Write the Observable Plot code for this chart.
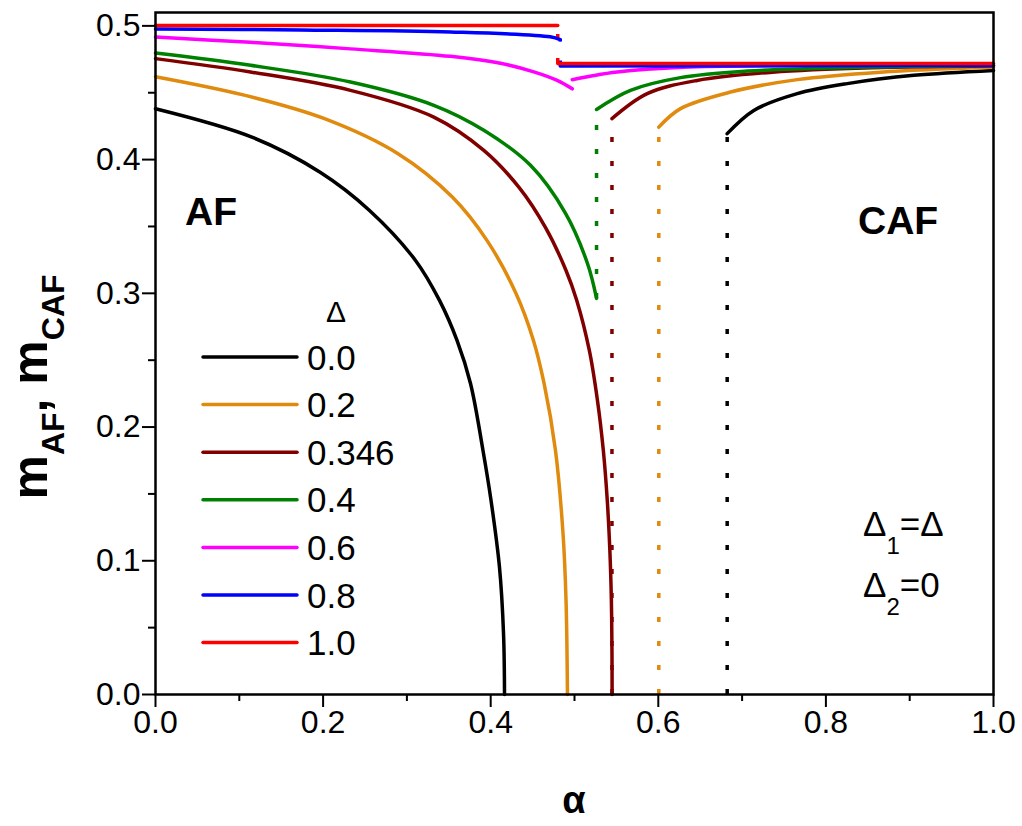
<!DOCTYPE html>
<html><head><meta charset="utf-8">
<script src="https://cdn.jsdelivr.net/npm/d3@7"></script>
<script src="https://cdn.jsdelivr.net/npm/@observablehq/plot@0.6"></script>
<style>body{margin:0;background:#fff;} svg{display:block;}</style>
</head><body><div id="chart"></div>
<script>
// ---- data ----
const deltaLabels = ["0.0","0.2","0.346","0.4","0.6","0.8","1.0"];
const seriesColors = ["#000000","#e08a0e","#800000","#008000","#ff00ff","#0000ff","#ff0000"];

// AF branches [alpha, m]
const af_00 = [[0,0.438],[0.1158,0.4166],[0.1969,0.3904],[0.2554,0.3620],[0.3103,0.3246],[0.3389,0.2947],[0.3598,0.2648],[0.3759,0.2326],[0.3908,0.1825],[0.4004,0.1451],[0.4105,0.0950],[0.4153,0.0456],[0.4165,0]];
const af_02 = [[0,0.462],[0.1072,0.4480],[0.2017,0.4306],[0.2894,0.4044],[0.3542,0.3720],[0.3955,0.3396],[0.4302,0.2999],[0.4510,0.2648],[0.4637,0.2326],[0.4773,0.1825],[0.4863,0.1204],[0.4899,0.0703],[0.4916,0]];
const af_0346 = [[0,0.4755],[0.1134,0.4655],[0.2327,0.4518],[0.3321,0.4318],[0.3918,0.4069],[0.4338,0.3792],[0.4653,0.3493],[0.4899,0.3171],[0.5027,0.2947],[0.5177,0.2573],[0.5274,0.2199],[0.5344,0.1825],[0.5391,0.1451],[0.5422,0.1077],[0.5440,0.0703],[0.5447,0.0329],[0.5449,0]];
const af_04 = [[0,0.4797],[0.1134,0.4705],[0.2327,0.4580],[0.3321,0.4406],[0.3918,0.4219],[0.4475,0.3957],[0.4893,0.3598],[0.5155,0.3223],[0.5263,0.2962]];
const af_06 = [[0,0.4916],[0.1134,0.4877],[0.2327,0.4828],[0.3520,0.4772],[0.4117,0.4720],[0.4514,0.4656],[0.4793,0.4592],[0.4973,0.4529]];
const af_08 = [[0,0.4977],[0.173,0.4970],[0.352,0.4955],[0.471,0.4918],[0.483,0.4897]];
const af_10 = [[0,0.5003],[0.480,0.5003]];

// CAF branches [alpha, m]
const caf_00 = [[0.6822,0.4194],[0.7140,0.4368],[0.7658,0.4493],[0.8254,0.4568],[0.9049,0.4630],[1,0.4667]];
const caf_02 = [[0.6006,0.4243],[0.6265,0.4381],[0.6862,0.4505],[0.7658,0.4598],[0.8652,0.4654],[1,0.4690]];
const caf_0346 = [[0.5447,0.4306],[0.5868,0.4493],[0.6464,0.4592],[0.7363,0.4654],[0.8556,0.4687],[1,0.4700]];
const caf_04 = [[0.5263,0.4375],[0.5668,0.4518],[0.6265,0.4613],[0.7061,0.4662],[0.8413,0.4690],[1,0.4705]];
const caf_06 = [[0.4973,0.4597],[0.520,0.4625],[0.551,0.4655],[0.630,0.4690],[0.750,0.4703],[1,0.4708]];
const caf_08 = [[0.483,0.4700],[1,0.4705]];
const caf_10 = [[0.480,0.4718],[1,0.4718]];

// first-order jumps (dotted): alpha, lower m, upper m
const jumpAlpha = [0.6822, 0.6006, 0.5447, 0.5263, null, 0.483, 0.480];
const jumpLow   = [0, 0, 0, 0.2962, null, 0.4700, 0.4718];
const jumpHigh  = [0.4194, 0.4243, 0.4306, 0.4375, null, 0.4897, 0.5003];

const xTicks = [0, 0.2, 0.4, 0.6, 0.8, 1.0];
const xMinor = [0.1, 0.3, 0.5, 0.7, 0.9];
const yTicks = [0, 0.1, 0.2, 0.3, 0.4, 0.5];
const yMinor = [0.05, 0.15, 0.25, 0.35, 0.45];

// ---- build tables ----
const afAll = [af_00, af_02, af_0346, af_04, af_06, af_08, af_10];
const cafAll = [caf_00, caf_02, caf_0346, caf_04, caf_06, caf_08, caf_10];
const solid = [];
seriesColors.forEach((c, i) => {
  afAll[i].forEach(([x, y]) => solid.push({key: i + "-af", x, y, color: c}));
  cafAll[i].forEach(([x, y]) => solid.push({key: i + "-caf", x, y, color: c}));
});
const jumps = jumpAlpha.map((x, i) => ({x, lo: jumpLow[i], hi: jumpHigh[i], color: seriesColors[i]})).filter(d => d.x != null);

const FONT = "Arial, 'Liberation Sans', sans-serif";

const chart = Plot.plot({
  width: 1022, height: 826,
  marginLeft: 155, marginRight: 29, marginTop: 12, marginBottom: 132,
  style: {fontFamily: FONT, background: "#fff", color: "#000"},
  x: {domain: [0, 1]},
  y: {domain: [0, 0.51]},
  color: {type: "identity"},
  marks: [
    Plot.ruleX(jumps, {x: "x", y1: "lo", y2: "hi", stroke: "color", strokeWidth: 3.5, strokeDasharray: "5,19"}),
    Plot.line(solid, {x: "x", y: "y", z: "key", stroke: "color", strokeWidth: 3.5, curve: "catmull-rom", strokeLinecap: "round"}),
    Plot.axisX(xTicks, {tickSize: 13, tickPadding: 3, strokeWidth: 2, fontSize: 32, tickFormat: d3.format(".1f"), label: null}),
    Plot.axisX(xMinor, {tickSize: 7, strokeWidth: 2, tickFormat: () => "", label: null}),
    Plot.axisY(yTicks, {tickSize: 13, tickPadding: 2, strokeWidth: 2, fontSize: 32, tickFormat: d3.format(".1f"), label: null}),
    Plot.axisY(yMinor, {tickSize: 7, strokeWidth: 2, tickFormat: () => "", label: null}),
    Plot.frame({stroke: "#000", strokeWidth: 2.5})
  ]
});

const svg = d3.select(chart);

// y-axis title
const yt = svg.append("text")
  .attr("transform", "translate(47,387) rotate(-90)")
  .attr("text-anchor", "middle")
  .attr("font-family", FONT).attr("font-weight", "bold").attr("fill", "#000");
yt.append("tspan").attr("font-size", 50).text("m");
yt.append("tspan").attr("font-size", 32).attr("dy", 17).text("AF");
yt.append("tspan").attr("font-size", 50).attr("dy", -17).text(", m");
yt.append("tspan").attr("font-size", 32).attr("dy", 17).text("CAF");

// x-axis title
svg.append("text").attr("x", 574).attr("y", 813).attr("text-anchor", "middle")
  .attr("font-family", FONT).attr("font-weight", "bold").attr("font-size", 38).text("α");

// region labels
svg.append("text").attr("x", 185).attr("y", 225).attr("text-anchor", "start").attr("font-family", FONT)
  .attr("font-weight", "bold").attr("font-size", 39).text("AF");
svg.append("text").attr("x", 858).attr("y", 234).attr("text-anchor", "start").attr("font-family", FONT)
  .attr("font-weight", "bold").attr("font-size", 39).text("CAF");

// Δ1=Δ, Δ2=0
const n1 = svg.append("text").attr("x", 863).attr("y", 536).attr("text-anchor", "start").attr("font-family", FONT).attr("font-size", 35);
n1.append("tspan").text("Δ");
n1.append("tspan").attr("font-size", 24).attr("dy", 18).text("1");
n1.append("tspan").attr("dy", -18).text("=Δ");
const n2 = svg.append("text").attr("x", 863).attr("y", 597).attr("text-anchor", "start").attr("font-family", FONT).attr("font-size", 35);
n2.append("tspan").text("Δ");
n2.append("tspan").attr("font-size", 24).attr("dy", 18).text("2");
n2.append("tspan").attr("dy", -18).text("=0");

// legend
const lg = svg.append("g").attr("font-family", FONT).attr("text-anchor", "start");
lg.append("text").attr("x", 336).attr("y", 322).attr("text-anchor", "middle").attr("font-size", 30).text("Δ");
deltaLabels.forEach((lab, i) => {
  const y = 357 + i * 47.6;
  lg.append("line").attr("x1", 203).attr("x2", 297).attr("y1", y).attr("y2", y)
    .attr("stroke", seriesColors[i]).attr("stroke-width", 3.5).attr("stroke-linecap", "round");
  lg.append("text").attr("x", 307).attr("y", y).attr("dy", "0.36em").attr("font-size", 35).text(lab);
});

document.getElementById("chart").appendChild(chart);
</script>
</body></html>
